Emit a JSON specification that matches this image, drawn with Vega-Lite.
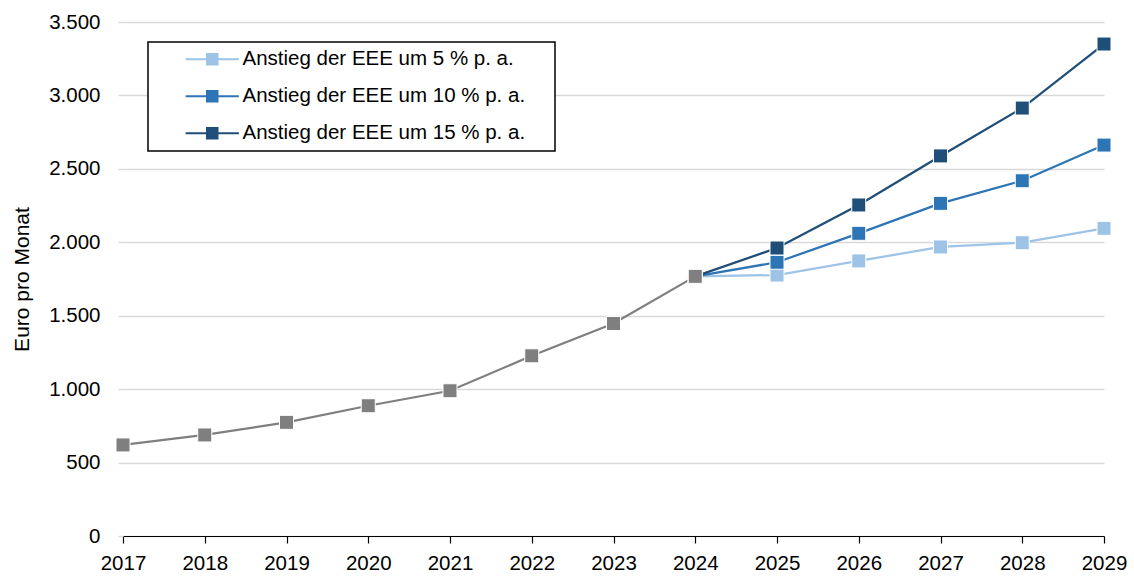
{
  "$schema": "https://vega.github.io/schema/vega-lite/v6.json",
  "width": 981,
  "height": 514,
  "autosize": {"type": "none"},
  "padding": {"left": 123, "top": 22, "right": 30, "bottom": 40},
  "background": "white",
  "config": {
    "view": {"stroke": null},
    "font": "Liberation Sans"
  },
  "data": {
    "values": [
      {"year": 2024, "value": 1768, "series": "Anstieg der EEE um 5 % p. a."},
      {"year": 2025, "value": 1777, "series": "Anstieg der EEE um 5 % p. a."},
      {"year": 2026, "value": 1873, "series": "Anstieg der EEE um 5 % p. a."},
      {"year": 2027, "value": 1968, "series": "Anstieg der EEE um 5 % p. a."},
      {"year": 2028, "value": 1997, "series": "Anstieg der EEE um 5 % p. a."},
      {"year": 2029, "value": 2095, "series": "Anstieg der EEE um 5 % p. a."},
      {"year": 2024, "value": 1768, "series": "Anstieg der EEE um 10 % p. a."},
      {"year": 2025, "value": 1864, "series": "Anstieg der EEE um 10 % p. a."},
      {"year": 2026, "value": 2061, "series": "Anstieg der EEE um 10 % p. a."},
      {"year": 2027, "value": 2265, "series": "Anstieg der EEE um 10 % p. a."},
      {"year": 2028, "value": 2419, "series": "Anstieg der EEE um 10 % p. a."},
      {"year": 2029, "value": 2662, "series": "Anstieg der EEE um 10 % p. a."},
      {"year": 2024, "value": 1768, "series": "Anstieg der EEE um 15 % p. a."},
      {"year": 2025, "value": 1961, "series": "Anstieg der EEE um 15 % p. a."},
      {"year": 2026, "value": 2254, "series": "Anstieg der EEE um 15 % p. a."},
      {"year": 2027, "value": 2588, "series": "Anstieg der EEE um 15 % p. a."},
      {"year": 2028, "value": 2914, "series": "Anstieg der EEE um 15 % p. a."},
      {"year": 2029, "value": 3350, "series": "Anstieg der EEE um 15 % p. a."},
      {"year": 2017, "value": 620, "series": "Ist"},
      {"year": 2018, "value": 688, "series": "Ist"},
      {"year": 2019, "value": 774, "series": "Ist"},
      {"year": 2020, "value": 887, "series": "Ist"},
      {"year": 2021, "value": 989, "series": "Ist"},
      {"year": 2022, "value": 1227, "series": "Ist"},
      {"year": 2023, "value": 1447, "series": "Ist"},
      {"year": 2024, "value": 1768, "series": "Ist"}
    ]
  },
  "encoding": {
    "x": {
      "field": "year",
      "type": "quantitative",
      "scale": {"domain": [2017, 2029], "nice": false, "zero": false},
      "axis": {
        "title": null,
        "values": [2017, 2018, 2019, 2020, 2021, 2022, 2023, 2024, 2025, 2026, 2027, 2028, 2029],
        "format": "d",
        "grid": false,
        "domainColor": "black",
        "domainWidth": 1.2,
        "tickColor": "black",
        "tickWidth": 1.2,
        "tickSize": 7,
        "labelFontSize": 20.5,
        "labelColor": "black",
        "labelPadding": 10,
        "labelFlush": false,
        "labelOverlap": false
      }
    },
    "y": {
      "field": "value",
      "type": "quantitative",
      "scale": {"domain": [0, 3500], "nice": false},
      "axis": {
        "title": "Euro pro Monat",
        "titleFontSize": 21,
        "titleFontWeight": "normal",
        "titleColor": "black",
        "titlePadding": 16,
        "values": [0, 500, 1000, 1500, 2000, 2500, 3000, 3500],
        "labelExpr": "replace(format(datum.value, ','), ',', '.')",
        "domain": false,
        "grid": true,
        "gridColor": "#D9D9D9",
        "gridWidth": 1.5,
        "ticks": true,
        "tickColor": "#D9D9D9",
        "tickWidth": 1.5,
        "tickSize": 5,
        "labelFontSize": 20.5,
        "labelColor": "black",
        "labelPadding": 18
      }
    },
    "color": {
      "field": "series",
      "type": "nominal",
      "scale": {
        "domain": ["Anstieg der EEE um 5 % p. a.", "Anstieg der EEE um 10 % p. a.", "Anstieg der EEE um 15 % p. a.", "Ist"],
        "range": ["#9DC3E6", "#2E75B6", "#1F4E79", "#7F7F7F"]
      },
      "legend": {
        "title": null,
        "values": ["Anstieg der EEE um 5 % p. a.", "Anstieg der EEE um 10 % p. a.", "Anstieg der EEE um 15 % p. a."],
        "orient": "none",
        "legendX": 25,
        "legendY": 20,
        "padding": 7,
        "fillColor": "white",
        "strokeColor": "black",
        "symbolType": "M-3.8,0H-0.75M0.75,0H3.8M-0.75,-0.75H0.75V0.75H-0.75Z",
        "symbolSize": 196,
        "symbolStrokeWidth": 2,
        "symbolOffset": 47,
        "labelOffset": 20,
        "labelFontSize": 20.5,
        "labelColor": "black",
        "rowPadding": 16,
        "labelExpr": "datum.label + '\u00a0\u00a0\u00a0\u00a0\u200b'",
        "labelLimit": 500,
        "encode": {
          "legend": {"update": {"strokeWidth": {"value": 1.5}}},
          "symbols": {
            "update": {
              "fill": {"scale": "color", "field": "value"},
              "stroke": {"scale": "color", "field": "value"},
              "fillOpacity": {"value": 1},
              "strokeOpacity": {"value": 1},
              "opacity": {"value": 1}
            }
          }
        }
      }
    }
  },
  "layer": [
    {"mark": {"type": "line", "strokeWidth": 2.25}},
    {"mark": {"type": "point", "shape": "square", "filled": true, "size": 196, "opacity": 1, "stroke": "white", "strokeWidth": 1}}
  ]
}
